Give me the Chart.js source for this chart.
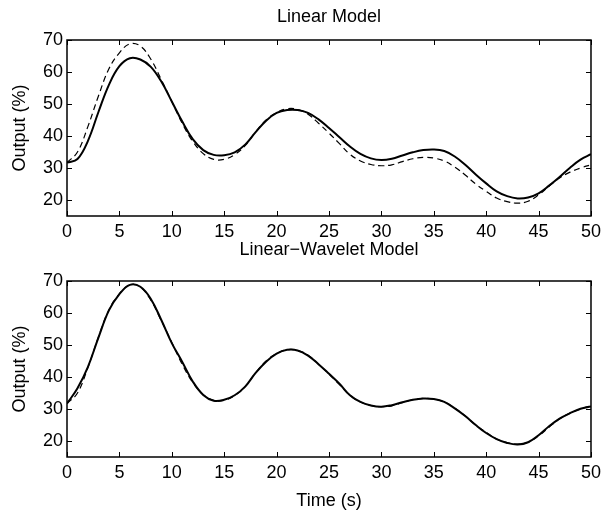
<!DOCTYPE html>
<html>
<head>
<meta charset="utf-8">
<script src="https://cdn.jsdelivr.net/npm/chart.js@4/dist/chart.umd.min.js"></script>
<style>
  html, body { margin: 0; padding: 0; background: #fff; }
  #wrap { position: relative; width: 606px; height: 514px; }
  canvas { position: absolute; left: 0; top: 0; }
</style>
</head>
<body>
<div id="wrap">
  <canvas id="c1" width="606" height="514"></canvas>
  <canvas id="c2" width="606" height="514"></canvas>
</div>
<script>
// ---- data ----
const time = [0,1,2,3,4,5,6,7,8,9,10,11,12,13,14,15,16,17,18,19,20,21,22,23,24,25,26,27,28,29,30,31,32,33,34,35,36,37,38,39,40,41,42,43,44,45,46,47,48,49,50];

// measured output (dashed, same in both panels)
const measured = [31.7,35.0,43.0,52.5,61.0,66.0,68.8,68.1,64.0,57.6,50.8,43.9,38.3,34.5,32.7,32.7,34.2,37.0,41.3,45.0,47.3,48.5,48.3,46.8,44.0,40.9,37.6,34.3,32.2,31.1,30.7,31.0,32.0,32.9,33.3,33.1,32.2,30.3,27.8,25.0,22.7,20.6,19.5,19.0,19.6,21.6,24.3,26.9,28.7,30.0,31.0];

// linear model output (solid, top panel)
const linearModel = [31.7,32.8,38.5,47.5,56.0,61.8,64.3,63.9,61.6,57.0,50.8,44.5,39.0,35.6,34.1,34.0,34.9,37.3,41.2,44.8,47.2,48.1,48.1,47.2,45.2,42.5,39.6,36.7,34.4,33.0,32.5,32.9,33.9,34.9,35.6,35.8,35.3,33.6,31.0,28.0,25.2,22.7,21.2,20.5,20.8,22.1,24.5,27.2,30.1,32.6,34.3];

// linear-wavelet model output (solid, bottom panel)
const waveletModel = [31.7,36.5,43.2,52.3,60.8,65.9,68.8,68.2,64.4,57.8,50.6,44.7,38.6,34.4,32.6,32.9,34.3,37.0,41.3,44.8,47.3,48.5,48.3,46.7,44.0,41.0,37.9,34.3,32.2,31.1,30.7,31.2,32.1,32.9,33.3,33.1,32.2,30.2,27.8,25.0,22.5,20.6,19.4,18.9,19.6,21.8,24.6,27.0,28.7,30.1,30.8];

const xTicks = [0,5,10,15,20,25,30,35,40,45,50];
const yTicks = [20,30,40,50,60,70];

const titles = ['Linear Model', 'Linear\u2212Wavelet Model'];
const yLabel = 'Output (%)';
const xLabel = 'Time (s)';

// ---- chart helpers ----
const FONT = '"Liberation Sans", Arial, Helvetica, sans-serif';

function pts(ys) { return time.map((t, i) => ({ x: t, y: ys[i] })); }

const frameTicks = {
  id: 'frameTicks',
  afterDraw(chart) {
    const { ctx, chartArea: a, scales } = chart;
    const L = 5;
    ctx.save();
    ctx.strokeStyle = '#000';
    ctx.lineWidth = 1;
    ctx.beginPath();
    scales.x.ticks.forEach(t => {
      const px = Math.round(scales.x.getPixelForValue(t.value)) + 0.5;
      ctx.moveTo(px, a.bottom); ctx.lineTo(px, a.bottom - L);
      ctx.moveTo(px, a.top); ctx.lineTo(px, a.top + L);
    });
    scales.y.ticks.forEach(t => {
      const py = Math.round(scales.y.getPixelForValue(t.value)) + 0.5;
      ctx.moveTo(a.left, py); ctx.lineTo(a.left + L, py);
      ctx.moveTo(a.right, py); ctx.lineTo(a.right - L, py);
    });
    ctx.stroke();
    ctx.lineWidth = 1.5;
    ctx.strokeRect(a.left, a.top, a.right - a.left, a.bottom - a.top);
    ctx.restore();
  }
};

function makeChart(id, cfg) {
  return new Chart(document.getElementById(id), {
    type: 'line',
    data: {
      datasets: [
        { data: pts(cfg.solid), borderColor: '#000', borderWidth: 2, pointRadius: 0, tension: 0.4, fill: false },
        { data: pts(measured), borderColor: '#000', borderWidth: 1.2, borderDash: [6, 4], pointRadius: 0, tension: 0.4, fill: false }
      ]
    },
    options: {
      responsive: false,
      animation: false,
      layout: { padding: cfg.padding },
      plugins: {
        legend: { display: false },
        tooltip: { enabled: false },
        title: {
          display: true, text: cfg.title, color: '#000', fullSize: false,
          font: { family: FONT, size: 18, weight: 'normal', lineHeight: 1.2 },
          padding: cfg.titlePad
        }
      },
      scales: {
        x: {
          type: 'linear', min: 0, max: 50,
          grid: { display: false, drawTicks: false },
          border: { display: false },
          afterBuildTicks: s => { s.ticks = xTicks.map(v => ({ value: v })); },
          afterFit: s => { s.height = cfg.xHeight; },
          ticks: { color: '#000', font: { family: FONT, size: 18 }, padding: 5, autoSkip: false, maxRotation: 0 },
          title: { display: cfg.showX, text: xLabel, color: '#000', font: { family: FONT, size: 18, lineHeight: 1.2 }, padding: { top: 0, bottom: 2 } }
        },
        y: {
          type: 'linear', min: 15, max: 70,
          grid: { display: false, drawTicks: false },
          border: { display: false },
          afterBuildTicks: s => { s.ticks = yTicks.map(v => ({ value: v })); },
          afterFit: s => { s.width = 67; },
          ticks: { color: '#000', font: { family: FONT, size: 18 }, padding: 4 },
          title: { display: true, text: yLabel, color: '#000', font: { family: FONT, size: 18, lineHeight: 1.2 }, padding: { top: 9, bottom: 0 } }
        }
      }
    },
    plugins: [frameTicks]
  });
}

makeChart('c1', {
  solid: linearModel, title: titles[0],
  padding: { top: 0, left: 0, right: 10, bottom: 257 },
  titlePad: { top: 6, bottom: 12.4 },
  xHeight: 41, showX: false
});

makeChart('c2', {
  solid: waveletModel, title: titles[1],
  padding: { top: 230, left: 0, right: 10, bottom: 0 },
  titlePad: { top: 9.2, bottom: 20.2 },
  xHeight: 57, showX: true
});
</script>
</body>
</html>
